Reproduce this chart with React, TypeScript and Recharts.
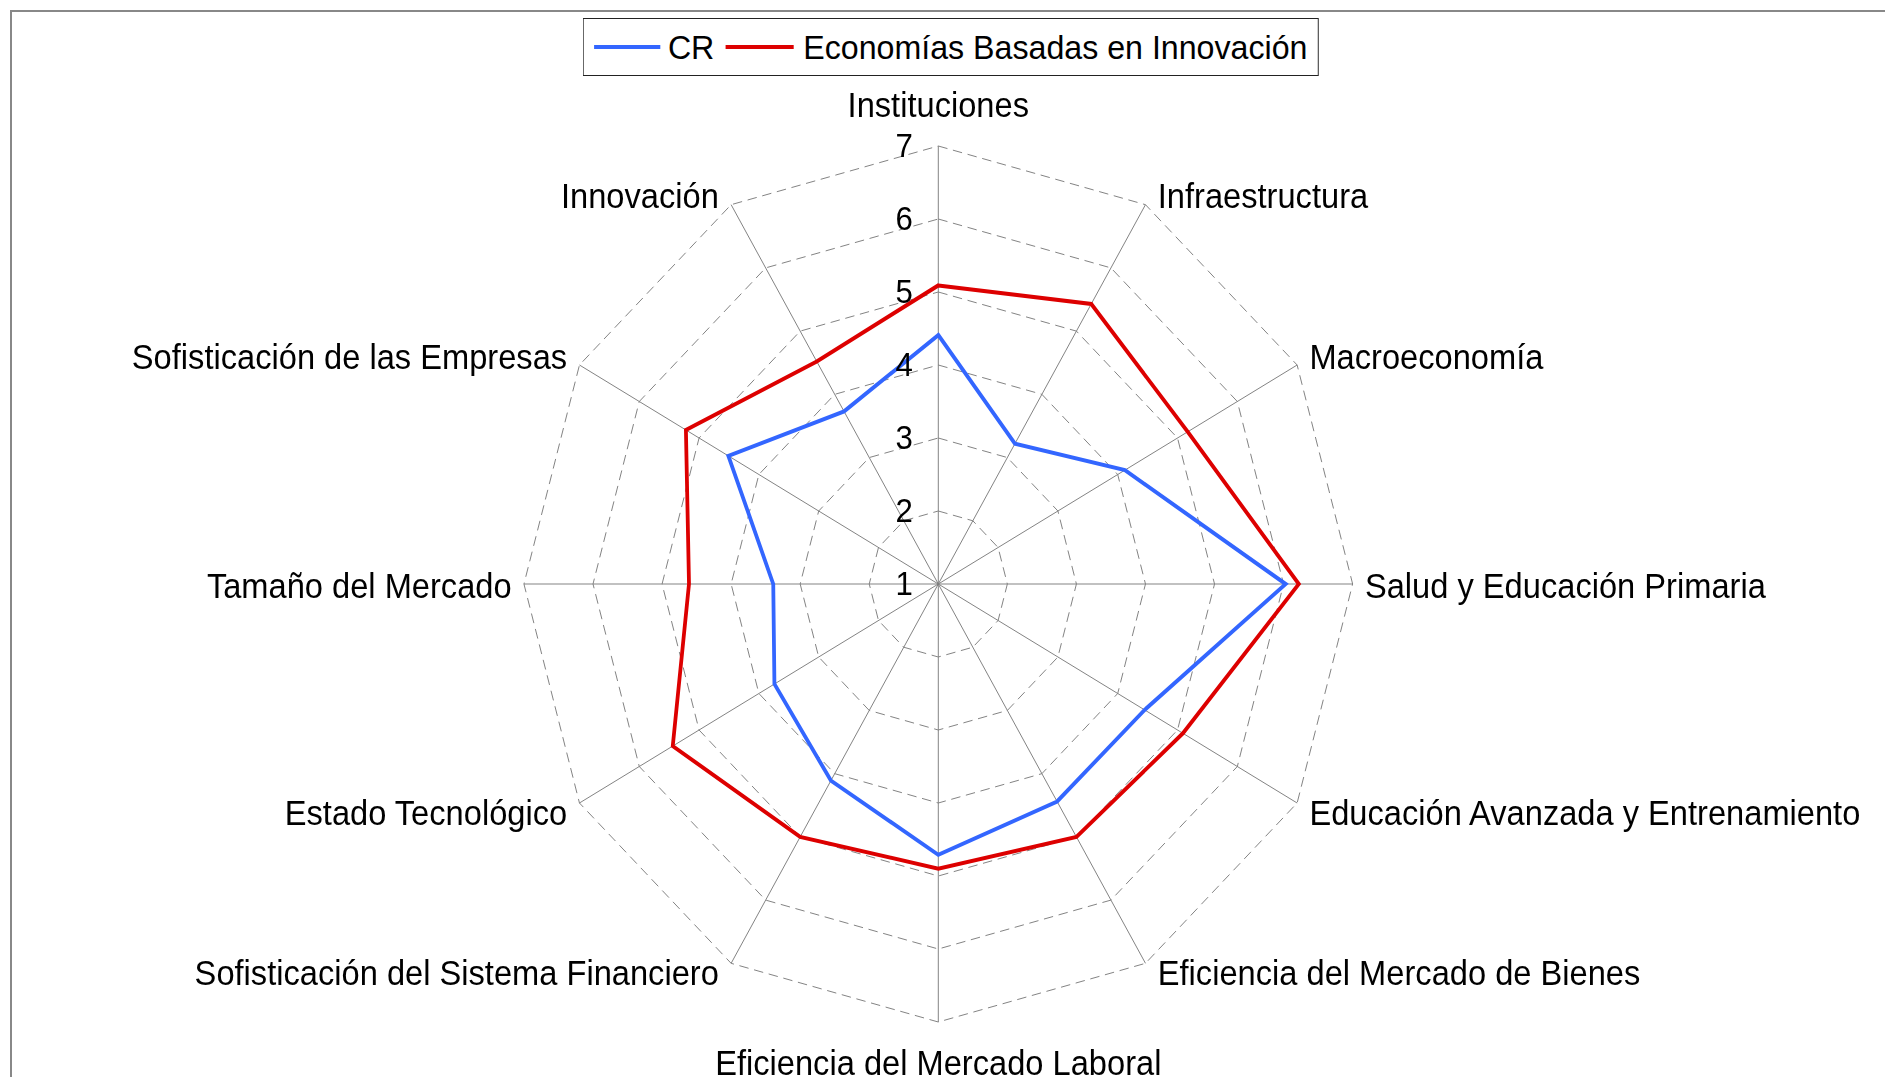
import React from 'react';
import { RadarChart, Radar, PolarGrid, PolarAngleAxis, PolarRadiusAxis } from 'recharts';

// Global Competitiveness pillars
const categories = [
  'Instituciones',
  'Infraestructura',
  'Macroeconomía',
  'Salud y Educación Primaria',
  'Educación Avanzada y Entrenamiento',
  'Eficiencia del Mercado de Bienes',
  'Eficiencia del Mercado Laboral',
  'Sofisticación del Sistema Financiero',
  'Estado Tecnológico',
  'Tamaño del Mercado',
  'Sofisticación de las Empresas',
  'Innovación',
];

const crValues = [4.41, 3.22, 4.12, 6.03, 4.45, 4.44, 4.71, 4.11, 3.74, 3.39, 4.51, 3.73];
const innovationValues = [5.09, 5.43, 5.17, 6.22, 5.09, 5.0, 4.9, 5.0, 5.44, 4.61, 5.22, 4.52];

const radiusTicks = [1, 2, 3, 4, 5, 6, 7];

const seriesNames = ['CR', 'Economías Basadas en Innovación'];

const data = categories.map((name, i) => ({
  name,
  cr: crValues[i],
  ebi: innovationValues[i],
}));

// the reference is slightly squeezed horizontally
const SX = 0.946;
const W = Math.round(1885 / SX);
const H = 1077;
const CX = 938.3 / SX;
const CY = 584;
const R = 438;
const RAD = Math.PI / 180;
const FONT = '"Liberation Sans", Arial, Helvetica, sans-serif';
const GRID = '#808080';
const BLUE = '#3366ff';
const RED = '#dd0000';

const AngleTick = (props: any) => {
  const angle = props.payload.coordinate;
  const c = Math.cos(-angle * RAD);
  const s = Math.sin(-angle * RAD);
  const vx = CX + R * c;
  const vy = CY + R * s;
  let x = vx;
  let y = vy;
  let anchor = 'middle';
  if (Math.abs(c) < 0.01) {
    y = s < 0 ? vy - 41 : vy + 41;
  } else {
    anchor = c > 0 ? 'start' : 'end';
    x = vx + (c > 0 ? 13 : -13);
    y = vy + (s < -0.1 ? -8 : s > 0.1 ? 10 : 2);
  }
  return (
    <text x={x} y={y} textAnchor={anchor} dominantBaseline="central" fontFamily={FONT} fontSize={34.5} fill="#000">
      {props.payload.value}
    </text>
  );
};

const RadiusTick = (props: any) => {
  return (
    <text x={props.x - 27} y={props.y} textAnchor="end" dominantBaseline="central" fontFamily={FONT} fontSize={33} fill="#000">
      {props.payload.value}
    </text>
  );
};

const LegendBox = () => (
  <div
    style={{
      position: 'absolute',
      left: 616,
      top: 18,
      width: 778,
      height: 58,
      boxSizing: 'border-box',
      border: '1px solid #222',
      background: '#fff',
      display: 'flex',
      alignItems: 'center',
      paddingLeft: 11,
      fontFamily: FONT,
      fontSize: 34,
      color: '#000',
      whiteSpace: 'nowrap',
    }}
  >
    <span style={{ display: 'inline-block', width: 70, height: 4, background: BLUE, marginRight: 8 }} />
    <span style={{ marginRight: 12 }}>{seriesNames[0]}</span>
    <span style={{ display: 'inline-block', width: 72, height: 4, background: RED, marginRight: 10 }} />
    <span>{seriesNames[1]}</span>
  </div>
);

export default function App() {
  return (
    <div style={{ position: 'fixed', left: 0, top: 0, width: 1885, height: 1077, overflow: 'hidden', background: '#fff' }}>
      <div
        style={{
          position: 'absolute',
          left: 10,
          top: 10,
          width: 3000,
          height: 3000,
          borderTop: '2px solid #888',
          borderLeft: '2px solid #888',
        }}
      />
      <div
        style={{
          position: 'absolute',
          left: 0,
          top: 0,
          width: W,
          height: H,
          transform: `scaleX(${SX})`,
          transformOrigin: '0 0',
        }}
      >
        <RadarChart
          width={W}
          height={H}
          data={data}
          cx={CX}
          cy={CY}
          outerRadius={R}
          margin={{ top: 0, right: 0, bottom: 0, left: 0 }}
        >
          <PolarGrid gridType="polygon" radialLines={false} stroke={GRID} strokeDasharray="10 6" />
          <PolarGrid gridType="polygon" polarRadius={[]} stroke={GRID} />
          <PolarAngleAxis dataKey="name" axisLine={false} tickLine={false} tick={<AngleTick />} />
          <PolarRadiusAxis
            angle={90}
            type="number"
            domain={[1, 7]}
            ticks={radiusTicks}
            tickCount={7}
            axisLine={false}
            tickLine={false}
            tick={<RadiusTick />}
          />
          <Radar
            name={seriesNames[0]}
            dataKey="cr"
            stroke={BLUE}
            strokeWidth={4}
            fill="none"
            fillOpacity={0}
            dot={false}
            isAnimationActive={false}
          />
          <Radar
            name={seriesNames[1]}
            dataKey="ebi"
            stroke={RED}
            strokeWidth={4}
            fill="none"
            fillOpacity={0}
            dot={false}
            isAnimationActive={false}
          />
        </RadarChart>
        <LegendBox />
      </div>
    </div>
  );
}
